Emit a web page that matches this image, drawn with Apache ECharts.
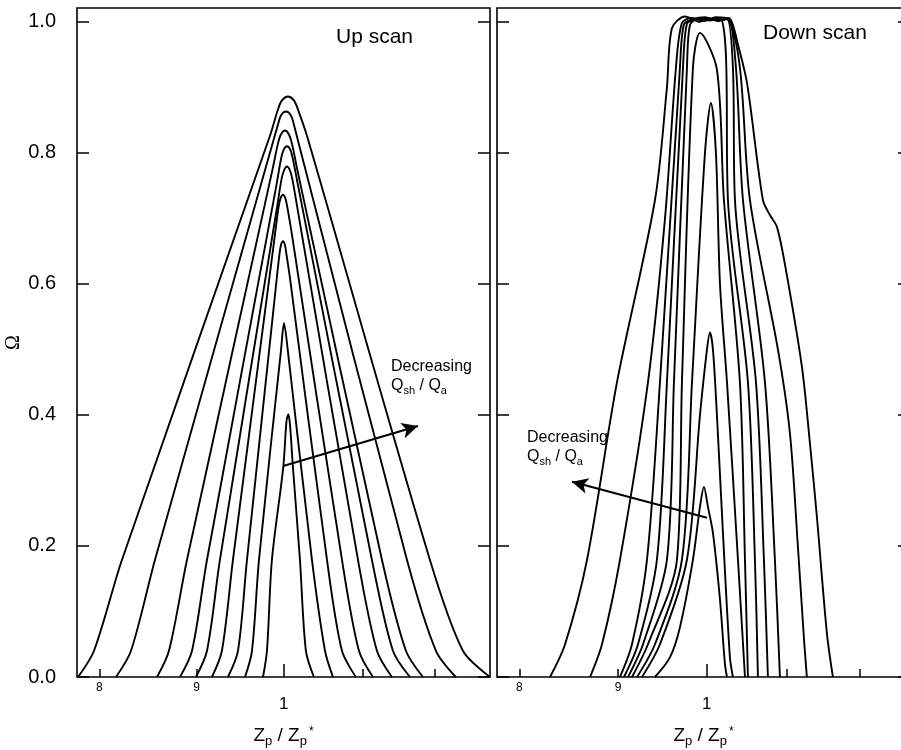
<!DOCTYPE html>
<html><head><meta charset="utf-8">
<script src="https://cdn.jsdelivr.net/npm/echarts@6/dist/echarts.min.js"></script>
<style>html,body{margin:0;padding:0;background:#fff}#c{width:901px;height:750px}</style>
</head><body><div id="c"></div>
<script>
// ---- axis ticks / labels ----
const yTicks = [0, 0.2, 0.4, 0.6, 0.8, 1.0];
const xMinorTicks = [0.8, 0.9, 1.1, 1.2];
const xMinorLabels = [0.8, 0.9];
const xMajorTicks = [1.0];

// ---- Up scan (left panel): [Zp/Zp*, Omega] ----
const up1 = [[0.7797,0],[0.7949,0.04],[0.8223,0.179],[0.9836,0.826],[0.9931,0.866],[0.9979,0.880],[1.0052,0.886],[1.0125,0.880],[1.0175,0.866],[1.0286,0.826],[1.1936,0.179],[1.2423,0.04],[1.2835,0]];
const up2 = [[0.8163,0],[0.8313,0.04],[0.8558,0.179],[0.9842,0.803],[0.9931,0.843],[0.9967,0.857],[1.0028,0.863],[1.0089,0.857],[1.0125,0.843],[1.0207,0.803],[1.1609,0.179],[1.2024,0.04],[1.2318,0]];
const up3 = [[0.8579,0],[0.8704,0.04],[0.8896,0.179],[0.9865,0.774],[0.9931,0.814],[0.9967,0.828],[1.0016,0.834],[1.0064,0.828],[1.0101,0.814],[1.0167,0.774],[1.1263,0.179],[1.1595,0.04],[1.1836,0]];
const up4 = [[0.8821,0],[0.8950,0.04],[0.9114,0.179],[0.9912,0.750],[0.9967,0.790],[0.9998,0.804],[1.0040,0.810],[1.0083,0.804],[1.0113,0.790],[1.0176,0.750],[1.1127,0.179],[1.1414,0.04],[1.1651,0]];
const up5 = [[0.8993,0],[0.9114,0.04],[0.9258,0.179],[0.9923,0.719],[0.9973,0.759],[1.0004,0.773],[1.0040,0.779],[1.0077,0.773],[1.0107,0.759],[1.0163,0.719],[1.0941,0.179],[1.1195,0.04],[1.1400,0]];
const up6 = [[0.9169,0],[0.9280,0.04],[0.9405,0.179],[0.9896,0.676],[0.9937,0.716],[0.9961,0.730],[0.9992,0.736],[1.0022,0.730],[1.0046,0.716],[1.0100,0.676],[1.0731,0.179],[1.0954,0.04],[1.1141,0]];
const up7 = [[0.9348,0],[0.9462,0.04],[0.9566,0.179],[0.9914,0.605],[0.9949,0.645],[0.9967,0.659],[0.9992,0.665],[1.0016,0.659],[1.0034,0.645],[1.0081,0.605],[1.0538,0.179],[1.0731,0.04],[1.0914,0]];
const up8 = [[0.9543,0],[0.9624,0.04],[0.9706,0.179],[0.9969,0.50],[1.0004,0.540],[1.0049,0.50],[1.0348,0.179],[1.0513,0.04],[1.0615,0]];
const up9 = [[0.9753,0],[0.9800,0.04],[0.9859,0.179],[0.9995,0.32],[1.0034,0.39],[1.0056,0.401],[1.0077,0.385],[1.0113,0.32],[1.0199,0.179],[1.0273,0.04],[1.0373,0]];

// ---- Down scan (right panel) ----
const dn1 = [[0.8298,0],[0.8448,0.05],[0.8672,0.179],[0.8987,0.45],[0.9403,0.728],[0.9538,0.90],[0.9595,0.99],[0.9745,1.008],[0.9921,1.0],[0.9992,1.005],[1.0196,1.003],[1.0269,1.006],[1.0318,0.995],[1.0367,0.972],[1.0492,0.907],[1.0693,0.728],[1.0783,0.705],[1.0873,0.687],[1.0977,0.63],[1.1201,0.474],[1.1309,0.357],[1.1403,0.245],[1.1540,0.067],[1.1623,0]];
const dn2 = [[0.8703,0],[0.8828,0.05],[0.9019,0.179],[0.9325,0.45],[0.9516,0.70],[0.9641,0.93],[0.9710,0.998],[0.9827,1.006],[0.9968,1.001],[1.0111,1.007],[1.0257,1.004],[1.0404,0.93],[1.0529,0.728],[1.0886,0.50],[1.1043,0.372],[1.1148,0.20],[1.1228,0.06],[1.1268,0]];
const dn3 = [[0.9019,0],[0.9149,0.05],[0.9314,0.179],[0.9459,0.45],[0.9687,0.93],[0.9733,0.996],[0.9838,1.004],[0.9980,1.007],[1.0123,1.002],[1.0257,1.005],[1.0355,0.93],[1.0442,0.728],[1.0719,0.45],[1.0847,0.179],[1.0912,0]];
const dn4 = [[0.9062,0],[0.9215,0.05],[0.9425,0.179],[0.9538,0.45],[0.9722,0.93],[0.9768,0.997],[0.9862,1.003],[1.0015,1.006],[1.0135,1.001],[1.0245,1.004],[1.0318,0.93],[1.0343,0.728],[1.0605,0.45],[1.0706,0.179],[1.0757,0]];
const dn5 = [[0.9106,0],[0.9270,0.05],[0.9538,0.179],[0.9618,0.45],[0.9768,0.93],[0.9803,0.995],[0.9897,1.005],[1.0039,1.002],[1.0160,1.006],[1.0232,0.95],[1.0257,0.728],[1.0504,0.45],[1.0592,0.179],[1.0630,0]];
const dn6 = [[0.9149,0],[0.9325,0.05],[0.9653,0.179],[0.9710,0.45],[0.9838,0.93],[0.9921,0.983],[1.0123,0.927],[1.0208,0.728],[1.0404,0.45],[1.0467,0.179],[1.0504,0]];
const dn7 = [[0.9204,0],[0.9403,0.05],[0.9710,0.179],[0.9827,0.45],[0.9980,0.80],[1.0051,0.876],[1.0111,0.80],[1.0160,0.60],[1.0245,0.45],[1.0380,0.179],[1.0467,0]];
const dn8 = [[0.9259,0],[0.9459,0.05],[0.9768,0.179],[0.9921,0.40],[1.0004,0.50],[1.0039,0.526],[1.0075,0.50],[1.0123,0.40],[1.0196,0.22],[1.0281,0.03],[1.0318,0]];
const dn9 = [[0.9403,0],[0.9572,0.03],[0.9687,0.076],[0.9838,0.179],[0.9921,0.26],[0.9968,0.29],[1.0015,0.26],[1.0075,0.22],[1.0160,0.118],[1.0220,0.02],[1.0245,0]];

// ---- annotation arrows [from, to] ----
const arrowUp = [[0.9995, 0.322], [1.1764, 0.383]];
const arrowDown = [[1.0004, 0.243], [0.8518, 0.298]];

const upCurves = [up1, up2, up3, up4, up5, up6, up7, up8, up9];
const downCurves = [dn1, dn2, dn3, dn4, dn5, dn6, dn7, dn8, dn9];

const FONT = 'Liberation Sans, Arial, Helvetica, sans-serif';
const xRanges = [[0.7787, 1.2837], [0.779, 1.2741]];

function xAxesFor(g) {
  const base = {
    gridIndex: g, type: 'log', logBase: 10, min: xRanges[g][0], max: xRanges[g][1], position: 'bottom',
    splitLine: {show: false}, axisLine: {show: false}
  };
  return [
    Object.assign({}, base, {
      axisTick: {show: true, inside: true, length: 8, customValues: xMinorTicks, lineStyle: {color: '#000', width: 1.5}},
      axisLabel: {show: true, customValues: xMinorLabels, margin: 5, fontSize: 12, color: '#000', fontFamily: FONT,
        formatter: v => String(Math.round(v * 10))}
    }),
    Object.assign({}, base, {
      axisTick: {show: true, inside: true, length: 13, customValues: xMajorTicks, lineStyle: {color: '#000', width: 1.5}},
      axisLabel: {show: true, customValues: xMajorTicks, margin: 19, fontSize: 17, color: '#000', fontFamily: FONT,
        formatter: v => String(Math.round(v))},
      name: '{m|Z}{s|p}{m| / Z}{s|p}{u|*}', nameLocation: 'middle', nameGap: 49,
      nameTextStyle: {color: '#000', fontFamily: FONT, rich: {
        m: {fontSize: 19, lineHeight: 22, verticalAlign: 'top', fontFamily: FONT, color: '#000'},
        s: {fontSize: 13, lineHeight: 13, padding: [12, 0, 0, 0], verticalAlign: 'bottom', fontFamily: FONT, color: '#000'},
        u: {fontSize: 12, lineHeight: 12, padding: [0, 0, 12, 2], verticalAlign: 'top', fontFamily: FONT, color: '#000'}
      }}
    })
  ];
}

function yAxesFor(g) {
  const base = {
    gridIndex: g, type: 'value', min: 0, max: 1.021, splitLine: {show: false}, axisLine: {show: false},
    axisTick: {show: true, inside: true, length: 12, customValues: yTicks, lineStyle: {color: '#000', width: 1.5}}
  };
  const left = Object.assign({}, base, {position: 'left',
    axisLabel: {show: g === 0, customValues: yTicks, margin: 21, fontSize: 20, color: '#000', fontFamily: FONT,
      formatter: v => v.toFixed(1)}});
  if (g === 0) {
    Object.assign(left, {name: 'Ω', nameLocation: 'middle', nameGap: 53,
      nameTextStyle: {fontSize: 20, color: '#000', fontFamily: 'Liberation Serif, Times New Roman, serif'}});
  }
  const right = Object.assign({}, base, {position: 'right', axisLabel: {show: false}});
  return [left, right];
}

const xAxis = [...xAxesFor(0), ...xAxesFor(1)];
const yAxis = [...yAxesFor(0), ...yAxesFor(1)];

function curveSeries(data, g) {
  return {
    type: 'line', data: data, xAxisIndex: g * 2, yAxisIndex: g * 2,
    showSymbol: false, symbol: 'none', smooth: 0.3,
    lineStyle: {color: '#000', width: 1.9}, silent: true, z: 3
  };
}

function arrowSeries(arr, g) {
  return {
    type: 'line', data: [], xAxisIndex: g * 2, yAxisIndex: g * 2, silent: true,
    markLine: {
      silent: true, symbol: ['none', 'arrow'], symbolSize: [12, 16], label: {show: false},
      lineStyle: {color: '#000', width: 2, type: 'solid'},
      data: [[{coord: arr[0]}, {coord: arr[1]}]]
    }
  };
}

const series = [
  ...upCurves.map(d => curveSeries(d, 0)),
  ...downCurves.map(d => curveSeries(d, 1)),
  arrowSeries(arrowUp, 0),
  arrowSeries(arrowDown, 1)
];

const qRich = {
  d: {fontSize: 16, lineHeight: 19, fontFamily: FONT, color: '#000', verticalAlign: 'top'},
  q: {fontSize: 16, lineHeight: 18, fontFamily: FONT, color: '#000', verticalAlign: 'top'},
  s: {fontSize: 11, lineHeight: 11, padding: [10, 0, 0, 0], fontFamily: FONT, color: '#000', verticalAlign: 'bottom'}
};
const qText = '{d|Decreasing}\n{q|Q}{s|sh}{q| / Q}{s|a}';

const gridBase = {top: 8, width: 413, height: 669, show: true, borderColor: '#000', borderWidth: 1.6,
  backgroundColor: 'transparent', containLabel: false, outerBoundsMode: 'none'};

const option = {
  backgroundColor: '#fff',
  animation: false,
  grid: [
    Object.assign({left: 77}, gridBase),
    Object.assign({left: 497}, gridBase)
  ],
  xAxis: xAxis,
  yAxis: yAxis,
  series: series,
  graphic: [
    {type: 'text', left: 336, top: 27, style: {text: 'Up scan', fontSize: 21, fontFamily: FONT, fill: '#000'}},
    {type: 'text', left: 763, top: 23, style: {text: 'Down scan', fontSize: 21, fontFamily: FONT, fill: '#000'}},
    {type: 'text', left: 391, top: 359, style: {text: qText, rich: qRich, fill: '#000'}},
    {type: 'text', left: 527, top: 430, style: {text: qText, rich: qRich, fill: '#000'}}
  ]
};

const chart = echarts.init(document.getElementById('c'), null, {renderer: 'canvas'});
chart.setOption(option);
</script>
</body></html>
